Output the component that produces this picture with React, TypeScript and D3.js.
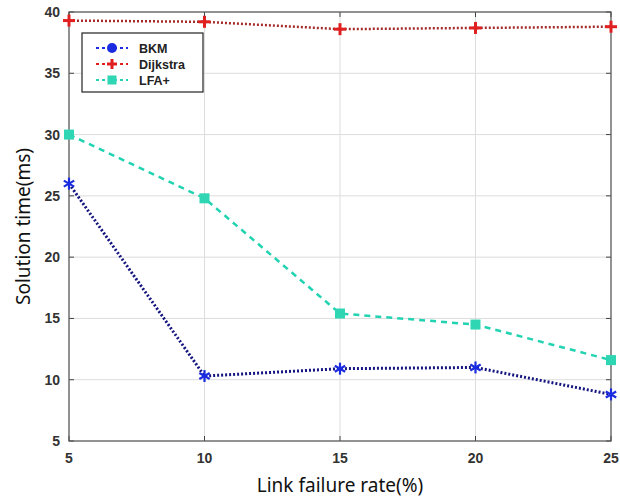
import React from "react";
import * as d3 from "d3";

const rates = [5, 10, 15, 20, 25];
const bkm = [26.0, 10.3, 10.9, 11.0, 8.8];
const dijkstra = [39.3, 39.2, 38.6, 38.7, 38.8];
const lfa = [30.0, 24.8, 15.4, 14.5, 11.6];
const xTicks = [5, 10, 15, 20, 25];
const yTicks = [5, 10, 15, 20, 25, 30, 35, 40];

const W = 620, H = 500;
const L = 69, R = 611, T = 12, B = 441;

export default function App() {
  const x = d3.scaleLinear().domain([5, 25]).range([L, R]);
  const y = d3.scaleLinear().domain([5, 40]).range([B, T]);
  const line = d3.line<number>().x((_, i) => x(rates[i])).y((d) => y(d));
  const tickFont = "Arial, 'Liberation Sans', sans-serif";
  const star = (cx: number, cy: number, r: number, color: string, key: string) => (
    <g key={key} stroke={color} strokeWidth={2.2}>
      {[0, 60, 120].map((a) => {
        const rad = (a * Math.PI) / 180;
        return (
          <line key={a} x1={cx - r * Math.sin(rad)} y1={cy - r * Math.cos(rad)} x2={cx + r * Math.sin(rad)} y2={cy + r * Math.cos(rad)} />
        );
      })}
    </g>
  );
  const plus = (cx: number, cy: number, r: number, color: string, key: string) => (
    <g key={key} stroke={color} strokeWidth={3}>
      <line x1={cx - r} y1={cy} x2={cx + r} y2={cy} />
      <line x1={cx} y1={cy - r} x2={cx} y2={cy + r} />
    </g>
  );
  return (
    <svg width={W} height={H} style={{ position: "absolute", left: 0, top: 0, background: "#fff" }}>
      <rect x={0} y={0} width={W} height={H} fill="#fff" />
      {/* grid */}
      {xTicks.map((t) => (
        <line key={"gx" + t} x1={x(t)} x2={x(t)} y1={T} y2={B} stroke="#dcdcdc" strokeWidth={1} />
      ))}
      {yTicks.map((t) => (
        <line key={"gy" + t} x1={L} x2={R} y1={y(t)} y2={y(t)} stroke="#dcdcdc" strokeWidth={1} />
      ))}
      {/* ticks */}
      {xTicks.map((t) => (
        <g key={"tx" + t}>
          <line x1={x(t)} x2={x(t)} y1={B} y2={B - 5} stroke="#444" />
          <line x1={x(t)} x2={x(t)} y1={T} y2={T + 5} stroke="#444" />
        </g>
      ))}
      {yTicks.map((t) => (
        <g key={"ty" + t}>
          <line x1={L} x2={L + 5} y1={y(t)} y2={y(t)} stroke="#444" />
          <line x1={R} x2={R - 5} y1={y(t)} y2={y(t)} stroke="#444" />
        </g>
      ))}
      <rect x={L} y={T} width={R - L} height={B - T} fill="none" stroke="#555" strokeWidth={1.2} />
      {/* tick labels */}
      {xTicks.map((t) => (
        <text key={"lx" + t} x={x(t)} y={B + 22} textAnchor="middle" fontFamily={tickFont} fontWeight="bold" fontSize={14} fill="#333">
          {t}
        </text>
      ))}
      {yTicks.map((t) => (
        <text key={"ly" + t} x={L - 9} y={y(t) + 5} textAnchor="end" fontFamily={tickFont} fontWeight="bold" fontSize={14} fill="#333">
          {t}
        </text>
      ))}
      {/* axis titles */}
      <text x={340} y={492} textAnchor="middle" fontFamily="'Noto Sans', 'Open Sans', sans-serif" fontSize={19} fill="#111">
        Link failure rate(%)
      </text>
      <text transform={`translate(30,${(T + B) / 2}) rotate(-90)`} textAnchor="middle" fontFamily="'Noto Sans', 'Open Sans', sans-serif" fontSize={19} fill="#111">
        Solution time(ms)
      </text>
      {/* series */}
      <path d={line(lfa) || ""} fill="none" stroke="#22d3b2" strokeWidth={2.5} strokeDasharray="6,5" />
      <path d={line(dijkstra) || ""} fill="none" stroke="#a52a2a" strokeWidth={2.5} strokeDasharray="2,2" />
      <path d={line(bkm) || ""} fill="none" stroke="#151580" strokeWidth={3} strokeDasharray="2,2" />
      {lfa.map((v, i) => (
        <rect key={"ml" + i} x={x(rates[i]) - 5} y={y(v) - 5} width={10} height={10} fill="#2fd6b4" />
      ))}
      {dijkstra.map((v, i) => plus(x(rates[i]), y(v), 6, "#e02020", "md" + i))}
      {bkm.map((v, i) => star(x(rates[i]), y(v), 6, "#1a2be0", "mb" + i))}
      {/* legend */}
      <g>
        <rect x={82} y={33} width={121} height={59} fill="#fff" stroke="#222" strokeWidth={1.2} />
        <line x1={96} x2={128} y1={48} y2={48} stroke="#1a2be0" strokeWidth={2} strokeDasharray="3,3" />
        <circle cx={112} cy={48} r={5} fill="#1a2be0" />
        <text x={139} y={52.5} fontFamily={tickFont} fontWeight="bold" fontSize={12.5} fill="#222">BKM</text>
        <line x1={96} x2={128} y1={64} y2={64} stroke="#e02020" strokeWidth={2} strokeDasharray="3,3" />
        {plus(112, 64, 5, "#e02020", "lp")}
        <text x={139} y={68.5} fontFamily={tickFont} fontWeight="bold" fontSize={12.5} fill="#222">Dijkstra</text>
        <line x1={96} x2={128} y1={80} y2={80} stroke="#22d3b2" strokeWidth={2} strokeDasharray="3,3" />
        <rect x={107.5} y={75.5} width={9} height={9} fill="#2fd6b4" />
        <text x={139} y={84.5} fontFamily={tickFont} fontWeight="bold" fontSize={12.5} fill="#222">LFA+</text>
      </g>
    </svg>
  );
}
